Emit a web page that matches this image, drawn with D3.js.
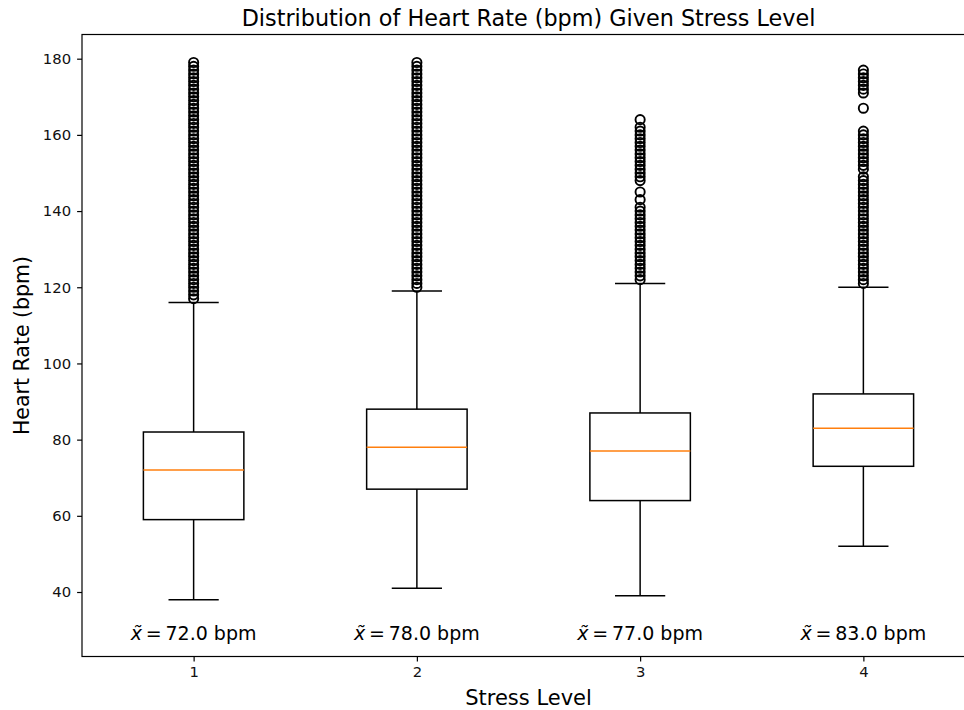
<!DOCTYPE html>
<html>
<head>
<meta charset="utf-8">
<script src="https://cdn.jsdelivr.net/npm/d3@7"></script>
<style>
  html, body { margin: 0; padding: 0; background: #ffffff; }
  svg { display: block; font-family: "DejaVu Sans", sans-serif; }
</style>
</head>
<body>
<svg id="chart" width="964" height="710"></svg>
<script>
// Box-plot summary of heart rate for each stress level
const stressLevels = [1, 2, 3, 4];
const whiskerLow  = [38, 41, 39, 52];
const q1          = [59, 67, 64, 73];
const medians     = [72, 78, 77, 83];
const q3          = [82, 88, 87, 92];
const whiskerHigh = [116, 119, 121, 120];

// Outlying heart-rate readings above the upper whisker
const fliers1 = [117, 118, 119, 120, 121, 122, 123, 124, 125, 126, 127, 128, 129, 130, 131, 132,
  133, 134, 135, 136, 137, 138, 139, 140, 141, 142, 143, 144, 145, 146, 147, 148, 149, 150, 151,
  152, 153, 154, 155, 156, 157, 158, 159, 160, 161, 162, 163, 164, 165, 166, 167, 168, 169, 170,
  171, 172, 173, 174, 175, 176, 177, 178, 179];
const fliers2 = [120, 121, 122, 123, 124, 125, 126, 127, 128, 129, 130, 131, 132, 133, 134, 135,
  136, 137, 138, 139, 140, 141, 142, 143, 144, 145, 146, 147, 148, 149, 150, 151, 152, 153, 154,
  155, 156, 157, 158, 159, 160, 161, 162, 163, 164, 165, 166, 167, 168, 169, 170, 171, 172, 173,
  174, 175, 176, 177, 178, 179];
const fliers3 = [122, 123, 124, 125, 126, 127, 128, 129, 130, 131, 132, 133, 134, 135, 136, 137,
  138, 139, 140, 141, 143, 145, 148, 149, 150, 151, 152, 153, 154, 155, 156, 157, 158, 159, 160,
  161, 162, 164];
const fliers4 = [121, 122, 123, 124, 125, 126, 127, 128, 129, 130, 131, 132, 133, 134, 135, 136,
  137, 138, 139, 140, 141, 142, 143, 144, 145, 146, 147, 148, 149, 151, 152, 153, 154, 155, 156,
  157, 158, 159, 160, 161, 167, 171, 172, 173, 174, 175, 176, 177];
const fliers = [fliers1, fliers2, fliers3, fliers4];

const yTicks = [40, 60, 80, 100, 120, 140, 160, 180];
const xLimits = [0.5, 4.5];
const yLimits = [23.07, 186.35];

const titleText = "Distribution of Heart Rate (bpm) Given Stress Level";
const xLabelText = "Stress Level";
const yLabelText = "Heart Rate (bpm)";

// Plot area (the right edge runs past the window)
const plot = { left: 82, right: 975, top: 34.5, bottom: 656.5 };
const boxWidth = 0.45;
const capWidth = 0.225;

const svg = d3.select("#chart");
svg.append("rect").attr("width", 964).attr("height", 710).attr("fill", "#ffffff");

const x = d3.scaleLinear().domain(xLimits).range([plot.left, plot.right]);
const y = d3.scaleLinear().domain(yLimits).range([plot.bottom, plot.top]);

const g = svg.append("g");
const lw = 1.5;

stressLevels.forEach((level, i) => {
  const grp = g.append("g");
  // whiskers
  grp.append("line")
    .attr("x1", x(level)).attr("x2", x(level))
    .attr("y1", y(q1[i])).attr("y2", y(whiskerLow[i]))
    .attr("stroke", "#000").attr("stroke-width", lw);
  grp.append("line")
    .attr("x1", x(level)).attr("x2", x(level))
    .attr("y1", y(q3[i])).attr("y2", y(whiskerHigh[i]))
    .attr("stroke", "#000").attr("stroke-width", lw);
  // caps
  [whiskerLow[i], whiskerHigh[i]].forEach(v => {
    grp.append("line")
      .attr("x1", x(level - capWidth / 2)).attr("x2", x(level + capWidth / 2))
      .attr("y1", y(v)).attr("y2", y(v))
      .attr("stroke", "#000").attr("stroke-width", lw);
  });
  // box
  grp.append("rect")
    .attr("x", x(level - boxWidth / 2))
    .attr("y", y(q3[i]))
    .attr("width", x(level + boxWidth / 2) - x(level - boxWidth / 2))
    .attr("height", y(q1[i]) - y(q3[i]))
    .attr("fill", "none").attr("stroke", "#000").attr("stroke-width", lw);
  // median
  grp.append("line")
    .attr("x1", x(level - boxWidth / 2)).attr("x2", x(level + boxWidth / 2))
    .attr("y1", y(medians[i])).attr("y2", y(medians[i]))
    .attr("stroke", "#ff7f0e").attr("stroke-width", lw);
  // fliers
  grp.selectAll("circle.flier").data(fliers[i]).enter().append("circle")
    .attr("class", "flier")
    .attr("cx", x(level)).attr("cy", d => y(d))
    .attr("r", 4.6)
    .attr("fill", "none").attr("stroke", "#000").attr("stroke-width", 1.9);
  // median annotation
  const t = grp.append("text")
    .attr("x", x(level)).attr("y", y(29))
    .attr("text-anchor", "middle").attr("dominant-baseline", "middle")
    .attr("font-size", 19).attr("fill", "#000");
  t.append("tspan").attr("font-style", "italic").text("x\u0303");
  t.append("tspan").text("\u2009=\u2009" + medians[i].toFixed(1) + " bpm");
});

// Axes
const yAxis = d3.axisLeft(y).tickValues(yTicks).tickSize(4.9).tickPadding(6).tickSizeOuter(0);
const xAxis = d3.axisBottom(x).tickValues(stressLevels).tickFormat(d3.format("d"))
  .tickSize(4.9).tickPadding(5).tickSizeOuter(0);

const yg = svg.append("g").attr("transform", `translate(${plot.left},0)`).call(yAxis);
const xg = svg.append("g").attr("transform", `translate(0,${plot.bottom})`).call(xAxis);
[yg, xg].forEach(a => {
  a.select(".domain").remove();
  a.selectAll(".tick line").attr("stroke", "#000").attr("stroke-width", 1.2);
  a.selectAll(".tick text").attr("font-size", 14.8).attr("fill", "#111")
    .attr("font-family", "DejaVu Sans, sans-serif");
});

// Frame
svg.append("rect")
  .attr("x", plot.left).attr("y", plot.top)
  .attr("width", plot.right - plot.left).attr("height", plot.bottom - plot.top)
  .attr("fill", "none").attr("stroke", "#000").attr("stroke-width", 1.2);

// Title and labels
svg.append("text")
  .attr("x", (plot.left + plot.right) / 2).attr("y", 26)
  .attr("text-anchor", "middle").attr("font-size", 22.3).attr("fill", "#000")
  .text(titleText);
svg.append("text")
  .attr("x", (plot.left + plot.right) / 2).attr("y", 705)
  .attr("text-anchor", "middle").attr("font-size", 21).attr("fill", "#000")
  .text(xLabelText);
svg.append("text")
  .attr("transform", `translate(29,${(plot.top + plot.bottom) / 2}) rotate(-90)`)
  .attr("text-anchor", "middle").attr("font-size", 20.5).attr("fill", "#000")
  .text(yLabelText);
</script>
</body>
</html>
